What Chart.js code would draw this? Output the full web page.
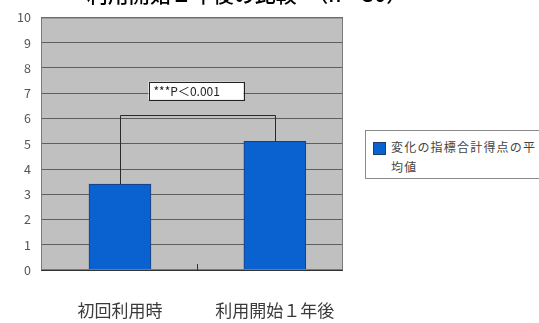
<!DOCTYPE html>
<html>
<head>
<meta charset="utf-8">
<script src="https://cdn.jsdelivr.net/npm/chart.js@4"></script>
<style>
  html, body { margin: 0; padding: 0; background: #fff; overflow: hidden; }
  #wrap { position: relative; width: 539px; height: 323px; }
  #legend {
    position: absolute; left: 365px; top: 130px; width: 200px; height: 49px;
    border: 1px solid #8a8a8a; background: #fff; box-sizing: border-box;
    font-family: "Noto Sans CJK JP", sans-serif; font-size: 12px; color: #444;
  }
  #legend .sw {
    position: absolute; left: 7px; top: 11px; width: 11px; height: 11px;
    background: #0a62d0; border: 1px solid #1b3c74;
  }
  #legend .txt {
    position: absolute; left: 25px; top: 6px; width: 150px;
    line-height: 20px; letter-spacing: 1.2px;
  }
</style>
</head>
<body>
<div id="wrap">
  <canvas id="chart" width="539" height="323"></canvas>
  <div id="legend"><div class="sw"></div><div class="txt" id="legendText"></div></div>
</div>
<script>
const title = "利用開始１年後の比較　（n＝30）";
const categories = ["初回利用時", "利用開始１年後"];
const seriesLabel = "変化の指標合計得点の平均値";
const values = [3.4, 5.1];
const yTicks = [0, 1, 2, 3, 4, 5, 6, 7, 8, 9, 10];
const sigLabel = "***P＜0.001";
const bracketLevel = 6.15;
const labelLevel = 7.1;

document.getElementById("legendText").textContent = seriesLabel;

const points = values.map((v, i) => ({ x: i, y: v }));

// plot background, title, bracket, middle tick
const extras = {
  id: "extras",
  beforeDraw(chart) {
    const { ctx, chartArea: a } = chart;
    ctx.save();
    ctx.fillStyle = "#c0c0c0";
    ctx.fillRect(a.left, a.top, a.right - a.left, a.bottom - a.top);
    ctx.restore();
  },
  afterDraw(chart) {
    const { ctx, chartArea: a, scales } = chart;
    const x = scales.x, y = scales.y;
    ctx.save();
    // plot border
    ctx.strokeStyle = "#7a7a7a";
    ctx.lineWidth = 1;
    ctx.strokeRect(a.left + 0.5, a.top + 0.5, a.right - a.left - 1, a.bottom - a.top - 1);
    // bottom axis line and middle tick
    ctx.strokeStyle = "#333";
    ctx.beginPath();
    ctx.moveTo(a.left, a.bottom + 0.5);
    ctx.lineTo(a.right, a.bottom + 0.5);
    const mx = Math.round(x.getPixelForValue(0.5)) + 0.5;
    ctx.moveTo(mx, a.bottom);
    ctx.lineTo(mx, a.bottom - 6);
    ctx.stroke();

    // significance bracket
    const bars = chart.getDatasetMeta(0).data;
    const by = Math.round(y.getPixelForValue(bracketLevel)) + 0.5;
    const x1 = Math.round(bars[0].x) + 0.5, x2 = Math.round(bars[1].x) + 0.5;
    ctx.strokeStyle = "#2a2a2a";
    ctx.beginPath();
    ctx.moveTo(x1, bars[0].y);
    ctx.lineTo(x1, by);
    ctx.lineTo(x2, by);
    ctx.lineTo(x2, bars[1].y);
    ctx.stroke();

    // label box
    ctx.font = "12px 'Noto Sans CJK JP', sans-serif";
    const cx = (x1 + x2) / 2 - 2;
    const cy = y.getPixelForValue(labelLevel);
    const bw = 95, bh = 18;
    ctx.fillStyle = "#fff";
    ctx.fillRect(cx - bw / 2, cy - bh / 2, bw, bh);
    ctx.strokeStyle = "#222";
    ctx.strokeRect(Math.round(cx - bw / 2) + 0.5, Math.round(cy - bh / 2) + 0.5, bw, bh);
    ctx.fillStyle = "#222";
    ctx.textBaseline = "middle";
    ctx.textAlign = "left";
    ctx.fillText(sigLabel, cx - bw / 2 + 5, cy + 1);

    // title (top cut off, as in the source)
    ctx.font = "500 21px 'Noto Sans CJK JP', sans-serif";
    ctx.fillStyle = "#000";
    ctx.textAlign = "center";
    ctx.textBaseline = "bottom";
    ctx.fillText(title, 247, 5);
    ctx.restore();
  }
};

new Chart(document.getElementById("chart"), {
  type: "bar",
  data: {
    datasets: [{
      label: seriesLabel,
      data: points,
      backgroundColor: "#0a62d0",
      borderColor: "#1b3c74",
      borderWidth: 1,
      barThickness: 62
    }]
  },
  options: {
    responsive: false,
    animation: false,
    layout: { padding: { top: 10, right: 196, left: 0, bottom: 0 } },
    plugins: { legend: { display: false }, tooltip: { enabled: false } },
    scales: {
      x: {
        type: "linear",
        offset: false,
        min: -0.51,
        max: 1.44,
        afterBuildTicks(s) { s.ticks = categories.map((c, i) => ({ value: i })); },
        grid: { display: false, offset: false },
        border: { display: false },
        ticks: {
          padding: 22,
          color: "#3a3a3a",
          callback: (v) => categories[v],
          font: { family: "'Noto Sans CJK JP', sans-serif", size: 17 }
        },
        afterFit(s) { s.height = 53; }
      },
      y: {
        min: 0,
        max: 10,
        afterBuildTicks(s) { s.ticks = yTicks.map(v => ({ value: v })); },
        grid: { color: "#5e5e5e", lineWidth: 1, drawTicks: false },
        border: { display: false },
        ticks: {
          padding: 10,
          color: "#555",
          font: { family: "'Noto Sans CJK JP', sans-serif", size: 12.5 }
        },
        afterFit(s) { s.width = 41; }
      }
    }
  },
  plugins: [extras]
});
</script>
</body>
</html>
